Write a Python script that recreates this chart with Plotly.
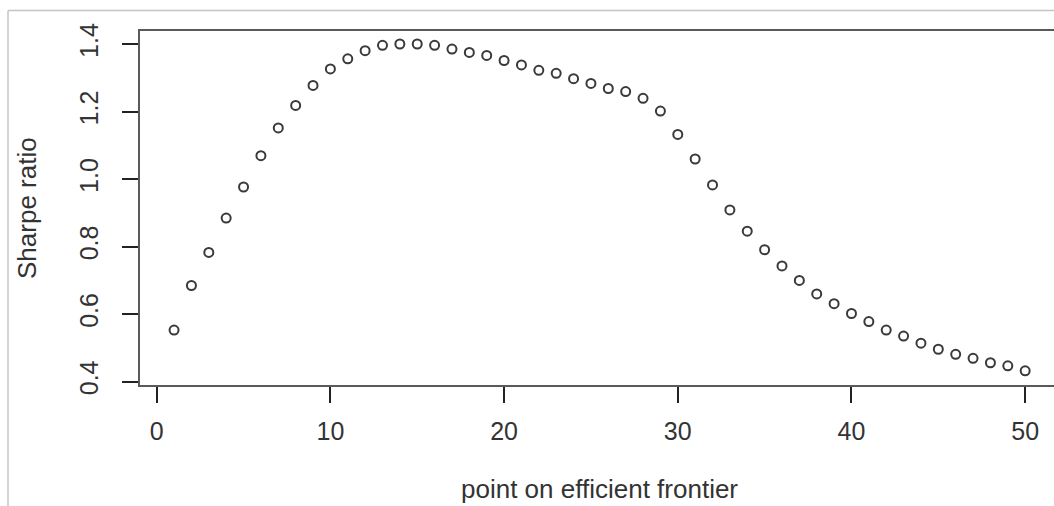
import plotly.graph_objects as go

# Data
points = list(range(1, 51))
sharpe = [0.553, 0.685, 0.783, 0.885, 0.977, 1.070, 1.152, 1.219, 1.278, 1.327,
          1.357, 1.381, 1.397, 1.401, 1.401, 1.397, 1.386, 1.376, 1.367, 1.352,
          1.339, 1.323, 1.314, 1.298, 1.284, 1.269, 1.260, 1.240, 1.202, 1.133,
          1.060, 0.983, 0.909, 0.846, 0.791, 0.743, 0.700, 0.660, 0.631, 0.602,
          0.578, 0.553, 0.535, 0.514, 0.496, 0.481, 0.469, 0.456, 0.447, 0.432]
x_ticks = [0, 10, 20, 30, 40, 50]
y_ticks = [0.4, 0.6, 0.8, 1.0, 1.2, 1.4]
y_tick_text = ["0.4", "0.6", "0.8", "1.0", "1.2", "1.4"]
x_title = "point on efficient frontier"
y_title = "Sharpe ratio"

W, H = 1054, 506
L, T, B = 140, 31, 121
plot_w = W - L
plot_h = H - T - B
FONT = "Liberation Sans, Arial, sans-serif"


def px_x(px):
    return (px - L) / plot_w


def px_y(py):
    return (H - B - py) / plot_h


fig = go.Figure()
fig.add_trace(go.Scatter(
    x=points, y=sharpe, mode="markers",
    marker=dict(symbol="circle-open", size=9, color="#3a3a3a",
                line=dict(width=2, color="#3a3a3a")),
    hoverinfo="x+y", showlegend=False,
))

fig.update_layout(
    width=W, height=H,
    margin=dict(l=L, r=0, t=T, b=B, pad=0),
    paper_bgcolor="white", plot_bgcolor="white",
    font=dict(family=FONT, size=25, color="#333333"),
    xaxis=dict(
        range=[-0.961, 51.66], tickvals=x_ticks, ticktext=[str(v) for v in x_ticks],
        showgrid=False, zeroline=False, showline=True, mirror=True,
        linecolor="#5a5a5a", linewidth=2,
        ticks="outside", ticklen=16, tickwidth=1.5, tickcolor="#222222",
        ticklabelstandoff=7,
        tickfont=dict(family=FONT, size=25, color="#333333"),
    ),
    yaxis=dict(
        range=[0.390, 1.4395], tickvals=y_ticks, ticktext=y_tick_text,
        showgrid=False, zeroline=False, showline=True, mirror=False,
        linecolor="#5a5a5a", linewidth=2,
        ticks="outside", ticklen=16, tickwidth=1.5, tickcolor="#222222",
        tickangle=-90, ticklabelstandoff=14,
        tickfont=dict(family=FONT, size=25, color="#333333"),
    ),
    shapes=[
        dict(type="line", xref="paper", yref="paper",
             x0=px_x(8), x1=px_x(W + 5), y0=px_y(10.5), y1=px_y(10.5),
             line=dict(color="#c4c4c4", width=1.5)),
        dict(type="line", xref="paper", yref="paper",
             x0=px_x(8), x1=px_x(8), y0=px_y(10.5), y1=px_y(H + 5),
             line=dict(color="#c4c4c4", width=1.5)),
    ],
    annotations=[
        dict(text=x_title, xref="paper", yref="paper",
             x=px_x(599.5), y=px_y(472), xanchor="center", yanchor="top",
             showarrow=False, font=dict(family=FONT, size=26, color="#333333")),
        dict(text=y_title, xref="paper", yref="paper", textangle=-90,
             x=px_x(27), y=px_y(208), xanchor="center", yanchor="middle",
             showarrow=False, font=dict(family=FONT, size=26, color="#333333")),
    ],
)

fig.write_html(
    "out.html",
    config={"displayModeBar": False},
    post_script="document.body.style.margin='0';document.body.style.overflow='hidden';",
)
